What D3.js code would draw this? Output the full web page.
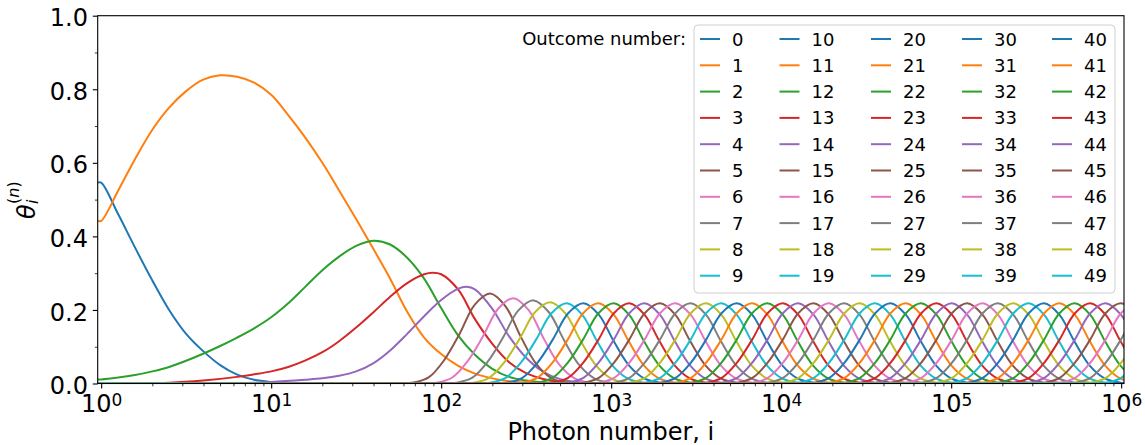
<!DOCTYPE html>
<html>
<head>
<meta charset="utf-8">
<script src="https://cdn.jsdelivr.net/npm/d3@7"></script>
<style>
body { margin: 0; background: #fff; }
svg text { font-family: "DejaVu Sans", sans-serif; fill: #000; }
</style>
</head>
<body>
<div id="chart"></div>
<script>
// outcome numbers (legend entries)
var outcomes = [0, 1, 2, 3, 4, 5, 6, 7, 8, 9, 10, 11, 12, 13, 14, 15, 16, 17, 18, 19,
    20, 21, 22, 23, 24, 25, 26, 27, 28, 29, 30, 31, 32, 33, 34, 35, 36, 37, 38, 39,
    40, 41, 42, 43, 44, 45, 46, 47, 48, 49];
var palette = ["#1f77b4", "#ff7f0e", "#2ca02c", "#d62728", "#9467bd",
    "#8c564b", "#e377c2", "#7f7f7f", "#bcbd22", "#17becf"];

// first outcomes, read point by point: [photon number i, theta]
var theta0 = [[0.954, 0.546], [1, 0.546], [1.26, 0.46], [1.58, 0.37], [2, 0.28], [2.51, 0.2],
    [3.16, 0.135], [3.98, 0.088], [5.01, 0.05], [6.31, 0.024], [7.94, 0.01], [10, 0.004],
    [12.6, 0.0015], [15.8, 0.0005], [25, 0], [2e6, 0]];
var theta1 = [[0.954, 0.442], [1, 0.442], [1.26, 0.525], [1.58, 0.61], [2, 0.69], [2.51, 0.75],
    [3.16, 0.795], [3.98, 0.826], [5.01, 0.838], [6.31, 0.834], [7.94, 0.818], [10, 0.785],
    [12.6, 0.73], [15.8, 0.67], [20, 0.6], [25.1, 0.525], [31.6, 0.447], [39.8, 0.367],
    [50.1, 0.285], [63.1, 0.195], [79.4, 0.125], [100, 0.08], [126, 0.048], [158, 0.027],
    [200, 0.014], [251, 0.006], [316, 0.002], [501, 0], [2e6, 0]];
var theta2 = [[0.954, 0.011], [1, 0.011], [1.26, 0.016], [1.58, 0.023], [2, 0.033], [2.51, 0.045],
    [3.16, 0.062], [3.98, 0.081], [5.01, 0.102], [6.31, 0.125], [7.94, 0.15], [10, 0.18],
    [12.6, 0.218], [15.8, 0.262], [20, 0.308], [25.1, 0.345], [31.6, 0.374], [39.8, 0.388],
    [50.1, 0.378], [63.1, 0.342], [79.4, 0.285], [100, 0.205], [126, 0.13], [158, 0.078],
    [200, 0.04], [251, 0.018], [316, 0.008], [398, 0.003], [631, 0], [2e6, 0]];
var theta3 = [[0.954, 0], [2.51, 0.002], [3.98, 0.008], [6.31, 0.018], [7.94, 0.025], [10, 0.033],
    [12.6, 0.045], [15.8, 0.062], [20, 0.085], [25.1, 0.115], [31.6, 0.152], [39.8, 0.193],
    [50.1, 0.236], [63.1, 0.273], [79.4, 0.297], [89.1, 0.301], [100, 0.297], [126, 0.255],
    [158, 0.175], [200, 0.108], [251, 0.058], [316, 0.028], [398, 0.012], [501, 0.004],
    [794, 0], [2e6, 0]];
var theta4 = [[0.954, 0], [6.31, 0.001], [10, 0.004], [15.8, 0.01], [20, 0.014], [25.1, 0.021],
    [31.6, 0.033], [39.8, 0.055], [50.1, 0.09], [63.1, 0.135], [79.4, 0.183], [100, 0.227],
    [126, 0.258], [141, 0.263], [158, 0.256], [200, 0.203], [251, 0.128], [316, 0.07],
    [398, 0.032], [501, 0.012], [631, 0.004], [1000, 0], [2e6, 0]];

// later outcomes all share one bell shape: photon number of the peak and peak height
var peakPhoton = [194, 266, 349, 438, 548, 687, 841, 1035, 1276, 1571, 1936, 2384, 2934, 3613,
    4446, 5483, 6745, 8299, 10230, 12590, 15500, 19100, 23500, 28970, 35650, 43950, 54080,
    66530, 82030, 100900, 124200, 153100, 188400, 232300, 285800, 351600, 433500, 533400,
    657700, 809100, 995400, 1227000, 1510000, 1862000, 2291000];
var peakTheta = [0.245, 0.232, 0.226, 0.221, 0.218, 0.218, 0.218, 0.218, 0.218, 0.218, 0.218,
    0.218, 0.218, 0.218, 0.218, 0.218, 0.218, 0.218, 0.218, 0.218, 0.218, 0.218, 0.218, 0.218,
    0.218, 0.218, 0.218, 0.218, 0.218, 0.218, 0.218, 0.218, 0.218, 0.218, 0.218, 0.218, 0.218,
    0.218, 0.218, 0.218, 0.218, 0.218, 0.218, 0.218, 0.218];
// bell shape: i / i_peak and theta / theta_peak
var bellRatio = [0.288, 0.355, 0.437, 0.537, 0.661, 0.813, 1, 1.23, 1.514, 1.862, 2.291, 2.818, 3.467];
var bellShape = [0.001, 0.01, 0.07, 0.26, 0.55, 0.876, 1, 0.86, 0.52, 0.22, 0.06, 0.01, 0.001];

var xTicks = [1, 10, 100, 1000, 10000, 100000, 1000000];
var yTicks = [0, 0.2, 0.4, 0.6, 0.8, 1.0];

var width = 1145, height = 445;
var plot = {left: 97.7, right: 1124, top: 15.7, bottom: 383.5};

var svg = d3.select("#chart").append("svg")
    .attr("width", width)
    .attr("height", height);

var x = d3.scaleLog().domain([0.954, 1.039e6]).range([plot.left, plot.right]);
var y = d3.scaleLinear().domain([0, 1]).range([plot.bottom, plot.top]);

// build every series
var firstCurves = [theta0, theta1, theta2, theta3, theta4];
var series = outcomes.map(function(n) {
    if (n < firstCurves.length) return firstCurves[n];
    var k = n - firstCurves.length;
    var pts = [[0.954, 0]];
    bellRatio.forEach(function(r, j) {
        pts.push([peakPhoton[k] * r, peakTheta[k] * bellShape[j]]);
    });
    pts.push([1e7, 0]);
    return pts;
});

svg.append("defs").append("clipPath").attr("id", "clip")
    .append("rect")
    .attr("x", plot.left).attr("y", plot.top)
    .attr("width", plot.right - plot.left)
    .attr("height", plot.bottom - plot.top);

var line = d3.line()
    .x(d => x(d[0]))
    .y(d => y(d[1]))
    .curve(d3.curveCatmullRom.alpha(0.5));

svg.append("g").attr("clip-path", "url(#clip)")
    .selectAll("path")
    .data(series)
    .enter()
    .append("path")
    .attr("d", line)
    .attr("fill", "none")
    .attr("stroke", (d, i) => palette[i % 10])
    .attr("stroke-width", 2);

// x axis, major + minor ticks
var minorX = [];
xTicks.slice(0, -1).forEach(function(t) {
    [2, 3, 4, 5, 6, 7, 8, 9].forEach(m => minorX.push(t * m));
});

svg.append("g")
    .attr("transform", `translate(0, ${plot.bottom})`)
    .call(d3.axisBottom(x).tickValues(minorX).tickSize(2.8).tickFormat(""))
    .call(g => g.select(".domain").remove())
    .call(g => g.selectAll("line").attr("stroke-width", 0.8));

var xAxis = svg.append("g")
    .attr("transform", `translate(0, ${plot.bottom})`)
    .call(d3.axisBottom(x).tickValues(xTicks).tickSize(4.9).tickFormat(""));
xAxis.select(".domain").remove();
xAxis.selectAll("line").attr("stroke-width", 1.1);
xAxis.selectAll(".tick").append("text")
    .attr("y", 28.2)
    .attr("text-anchor", "middle")
    .attr("font-size", 24)
    .each(function(d) {
        var t = d3.select(this);
        t.append("tspan").text("10");
        t.append("tspan").attr("dy", -6).attr("font-size", 17).text(Math.round(Math.log10(d)));
    });

// y axis
svg.append("g")
    .attr("transform", `translate(${plot.left}, 0)`)
    .call(d3.axisLeft(y).tickValues([0.1, 0.3, 0.5, 0.7, 0.9]).tickSize(2.8).tickFormat(""))
    .call(g => g.select(".domain").remove())
    .call(g => g.selectAll("line").attr("stroke-width", 0.8));

var yAxis = svg.append("g")
    .attr("transform", `translate(${plot.left}, 0)`)
    .call(d3.axisLeft(y).tickValues(yTicks).tickSize(4.9).tickPadding(4.9).tickFormat(d3.format(".1f")));
yAxis.select(".domain").remove();
yAxis.selectAll("line").attr("stroke-width", 1.1);
yAxis.selectAll("text").attr("font-size", 24).attr("dy", "0.42em")
    .attr("font-family", "DejaVu Sans").attr("fill", "#000");

// frame
svg.append("rect")
    .attr("x", plot.left).attr("y", plot.top)
    .attr("width", plot.right - plot.left)
    .attr("height", plot.bottom - plot.top)
    .attr("fill", "none")
    .attr("stroke", "#000")
    .attr("stroke-width", 1.1);

// axis titles
svg.append("text")
    .attr("x", (plot.left + plot.right) / 2)
    .attr("y", 440)
    .attr("text-anchor", "middle")
    .attr("font-size", 24)
    .text("Photon number, i");

var ylab = svg.append("g").attr("transform", "translate(35, 200) rotate(-90)");
ylab.append("text").attr("x", -19).attr("y", 0)
    .attr("font-size", 24).attr("font-style", "italic").text("θ");
ylab.append("text").attr("x", -4).attr("y", 3)
    .attr("font-size", 16).attr("font-style", "italic").text("i");
ylab.append("text").attr("x", -4).attr("y", -16)
    .attr("font-size", 16).text("(").append("tspan").attr("font-style", "italic").text("n")
    .select(function() { return this.parentNode; }).append("tspan").text(")");

// legend
var legend = {left: 694, top: 25, right: 1115, bottom: 293, rowY: 39, rowStep: 26.3};
var colX = [700, 779.5, 871, 962, 1052];

svg.append("rect")
    .attr("x", legend.left).attr("y", legend.top)
    .attr("width", legend.right - legend.left)
    .attr("height", legend.bottom - legend.top)
    .attr("rx", 4)
    .attr("fill", "#fff").attr("fill-opacity", 0.8)
    .attr("stroke", "#d0d0d0").attr("stroke-width", 1);

svg.append("text")
    .attr("x", 686).attr("y", 45)
    .attr("text-anchor", "end")
    .attr("font-size", 18)
    .text("Outcome number:");

var items = svg.append("g").selectAll("g")
    .data(outcomes)
    .enter()
    .append("g")
    .attr("transform", n => `translate(${colX[Math.floor(n / 10)]}, ${legend.rowY + (n % 10) * legend.rowStep})`);

items.append("line")
    .attr("x1", 0).attr("x2", 20)
    .attr("stroke", n => palette[n % 10])
    .attr("stroke-width", 2);

items.append("text")
    .attr("x", 32).attr("y", 6.5)
    .attr("font-size", 18)
    .text(n => n);
</script>
</body>
</html>
